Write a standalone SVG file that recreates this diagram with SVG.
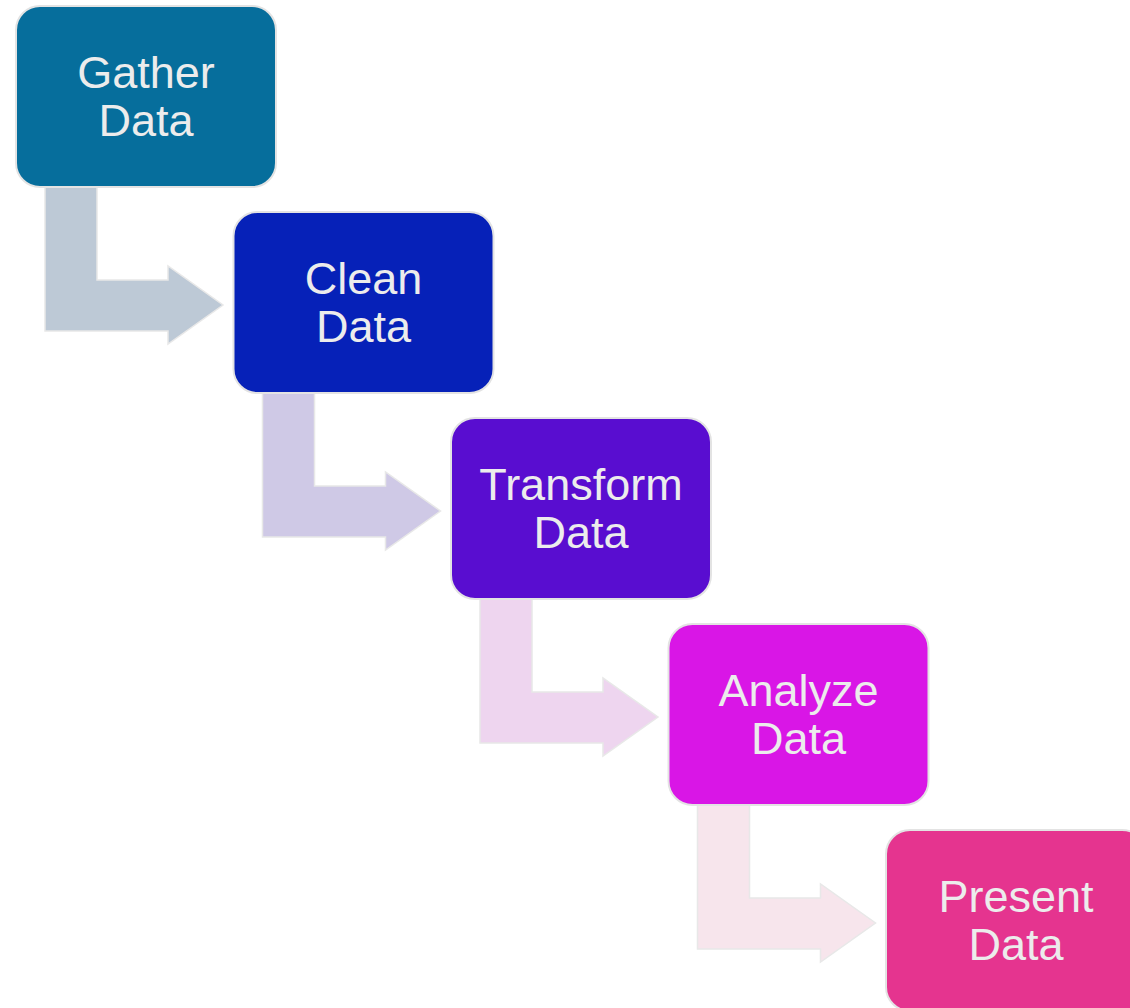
<svg xmlns="http://www.w3.org/2000/svg" width="1130" height="1008" viewBox="0 0 1130 1008">
<defs>
<style>
.box{stroke:#e3e3e3;stroke-width:2}
.arr{stroke:#e8e8e8;stroke-width:1.5}
.lbl{font-family:"Liberation Sans",Arial,sans-serif;font-size:45px;fill:#ececec;text-anchor:middle}
</style>
<path id="arrowShape" d="M29,170 L81,170 L81,274 L152,274 L152,260 L207,299 L152,338 L152,325 L29,325 Z"/>
</defs>
<rect width="1130" height="1008" fill="#ffffff"/>
<g id="connectors">
<use href="#arrowShape" class="arr" fill="#bdc9d6" transform="translate(16,6)"/>
<use href="#arrowShape" class="arr" fill="#cfc9e6" transform="translate(233.5,212)"/>
<use href="#arrowShape" class="arr" fill="#eed5ef" transform="translate(451,418)"/>
<use href="#arrowShape" class="arr" fill="#f7e5ec" transform="translate(668.5,624)"/>
</g>
<g id="gather" transform="translate(16,6)">
<rect class="box" width="260" height="181" rx="24" fill="#066e9c"/>
<text class="lbl" x="130" y="82">Gather</text>
<text class="lbl" x="130" y="130">Data</text>
</g>
<g id="clean" transform="translate(233.5,212)">
<rect class="box" width="260" height="181" rx="24" fill="#0621b8"/>
<text class="lbl" x="130" y="82">Clean</text>
<text class="lbl" x="130" y="130">Data</text>
</g>
<g id="transform" transform="translate(451,418)">
<rect class="box" width="260" height="181" rx="24" fill="#590dd0"/>
<text class="lbl" x="130" y="82">Transform</text>
<text class="lbl" x="130" y="130">Data</text>
</g>
<g id="analyze" transform="translate(668.5,624)">
<rect class="box" width="260" height="181" rx="24" fill="#d916e6"/>
<text class="lbl" x="130" y="82">Analyze</text>
<text class="lbl" x="130" y="130">Data</text>
</g>
<g id="present" transform="translate(886,830)">
<rect class="box" width="260" height="181" rx="24" fill="#e5348f"/>
<text class="lbl" x="130" y="82">Present</text>
<text class="lbl" x="130" y="130">Data</text>
</g>
</svg>
